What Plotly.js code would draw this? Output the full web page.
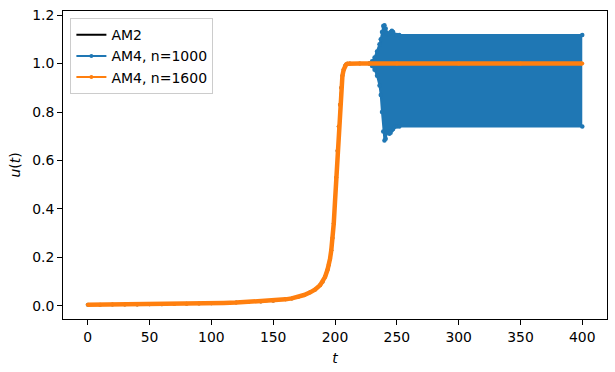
<!DOCTYPE html>
<html>
<head>
<meta charset="utf-8">
<script src="https://cdn.plot.ly/plotly-3.0.1.min.js"></script>
<style>html,body{margin:0;padding:0;background:#fff;}#chart{width:615px;height:372px;}</style>
</head>
<body>
<div id="chart"></div>
<script>
// Common solution curve u(t)
const tCurve = [0,10,20,30,40,50,60,70,80,90,100,110,120,130,140,150,160,165,170,175,180,184,188,190,192,194,195,196,197,198,199,200,201,202,203,204,205,206,207,208,209,210,212,220,228,250,300,350,400];
const uCurve = [0.005,0.0053,0.0055,0.0059,0.0063,0.0068,0.0073,0.0079,0.0087,0.0096,0.0107,0.012,0.0137,0.016,0.0185,0.021,0.027,0.031,0.037,0.045,0.056,0.068,0.086,0.10,0.12,0.15,0.17,0.195,0.23,0.28,0.34,0.43,0.53,0.64,0.74,0.83,0.90,0.95,0.975,0.99,0.996,0.999,1.0,1.0,1.0,1.0,1.0,1.0,1.0];

// AM4, n=1000: oscillation band envelope (upper / lower)
const oscT  = [228,230,232,234,236,237,238,239,240,241,242,243,244,245,246,247,248,250,252,400];
const oscHi = [1.0,1.01,1.025,1.05,1.08,1.10,1.13,1.155,1.158,1.145,1.125,1.12,1.125,1.13,1.135,1.13,1.12,1.118,1.118,1.118];
const oscLo = [1.0,0.99,0.975,0.95,0.91,0.87,0.80,0.72,0.683,0.69,0.715,0.72,0.71,0.715,0.725,0.73,0.738,0.74,0.74,0.74];
const oscStart = 228;

const xTicks = [0,50,100,150,200,250,300,350,400];
const yTicks = [0.0,0.2,0.4,0.6,0.8,1.0,1.2];

const BLUE = '#1f77b4', ORANGE = '#ff7f0e';
const FONT = 'DejaVu Sans, sans-serif';

const tBlue = [], uBlue = [];
tCurve.forEach((t,i)=>{ if (t <= oscStart) { tBlue.push(t); uBlue.push(uCurve[i]); } });

const traces = [
  {x: tCurve, y: uCurve, name: 'AM2', type: 'scatter', mode: 'lines',
   line: {color: '#000000', width: 2}},
  {x: tBlue, y: uBlue, name: 'AM4, n=1000', type: 'scatter', mode: 'lines+markers',
   line: {color: BLUE, width: 2}, marker: {color: BLUE, size: 4}},
  {x: oscT, y: oscHi, type: 'scatter', mode: 'lines+markers', showlegend: false,
   line: {color: BLUE, width: 2}, marker: {color: BLUE, size: 4.5}},
  {x: oscT, y: oscLo, type: 'scatter', mode: 'lines+markers', showlegend: false,
   fill: 'tonexty', fillcolor: BLUE,
   line: {color: BLUE, width: 2}, marker: {color: BLUE, size: 4.5}},
  {x: tCurve, y: uCurve, name: 'AM4, n=1600', type: 'scatter', mode: 'lines+markers',
   line: {color: ORANGE, width: 2}, marker: {color: ORANGE, size: 4}},
  {x: tCurve, y: uCurve, type: 'scatter', mode: 'lines', showlegend: false,
   line: {color: ORANGE, width: 4.5}}
];

const layout = {
  width: 615, height: 372,
  margin: {l: 63, r: 8, t: 11, b: 53, pad: 0},
  paper_bgcolor: '#ffffff', plot_bgcolor: '#ffffff',
  font: {family: FONT, size: 13.9, color: '#000000'},
  showlegend: true,
  legend: {x: 0.0136, y: 0.977, xanchor: 'left', yanchor: 'top', traceorder: 'normal',
    bgcolor: 'rgba(255,255,255,0.8)', bordercolor: '#cccccc', borderwidth: 1,
    font: {family: FONT, size: 14, color: '#000000'}, tracegroupgap: 0},
  xaxis: {range: [-20, 420], tickvals: xTicks, ticktext: xTicks.map(String),
    ticks: 'outside', ticklen: 5, tickwidth: 1, tickcolor: '#000',
    showline: true, mirror: true, linecolor: '#000', linewidth: 1,
    showgrid: false, zeroline: false,
    title: {text: '<i>t</i>', font: {family: FONT, size: 13.9}, standoff: 9}},
  yaxis: {range: [-0.054, 1.217], tickvals: yTicks, ticktext: yTicks.map(v=>v.toFixed(1)),
    ticks: 'outside', ticklen: 5, tickwidth: 1, tickcolor: '#000',
    showline: true, mirror: true, linecolor: '#000', linewidth: 1,
    showgrid: false, zeroline: false,
    title: {text: '<i>u</i>(<i>t</i>)', font: {family: FONT, size: 13.9}, standoff: 8}}
};

Plotly.newPlot('chart', traces, layout, {displayModeBar: false, staticPlot: true});
</script>
</body>
</html>
